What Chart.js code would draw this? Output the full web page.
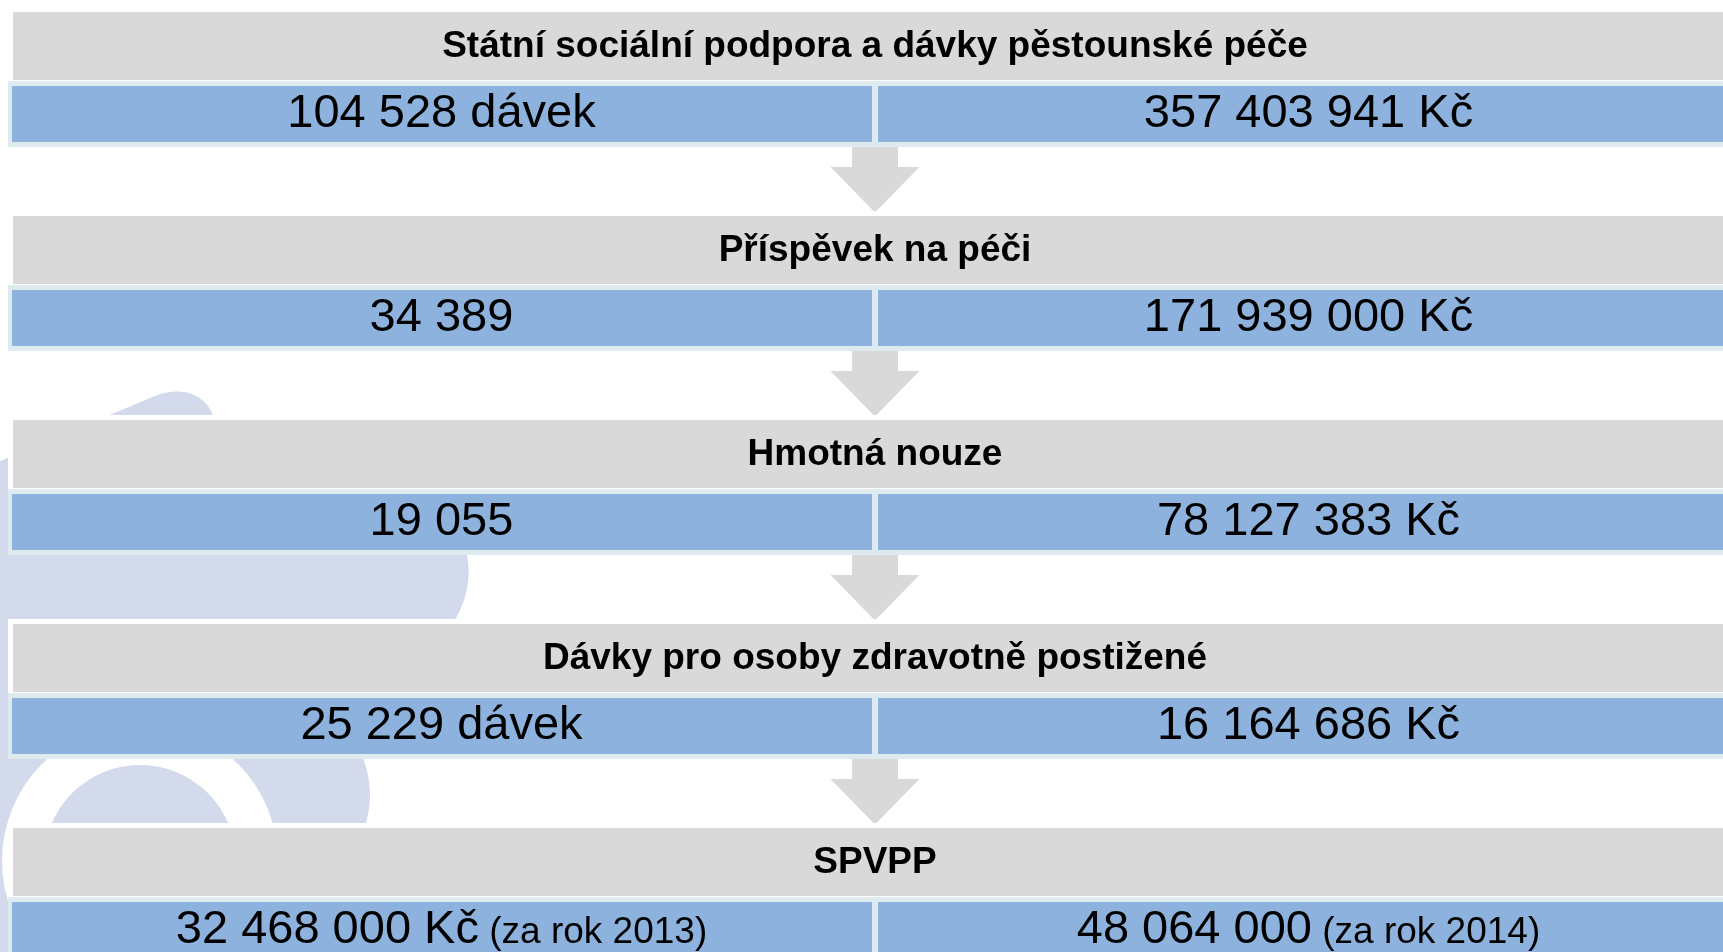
<!DOCTYPE html>
<html lang="cs">
<head>
<meta charset="utf-8">
<title>Dávky</title>
<script src="https://cdn.jsdelivr.net/npm/chart.js@4.4.1/dist/chart.umd.min.js"></script>
<style>
  html, body { margin: 0; padding: 0; background: #fff; overflow: hidden; }
  #wrap { width: 1760px; height: 1000px; }
</style>
</head>
<body>
<div id="wrap"><canvas id="flowChart" width="1760" height="1000"></canvas></div>
<script>
var headers = [
    'Státní sociální podpora a dávky pěstounské péče',
    'Příspěvek na péči',
    'Hmotná nouze',
    'Dávky pro osoby zdravotně postižené',
    'SPVPP'
];
var leftValues = ['104 528 dávek', '34 389', '19 055', '25 229 dávek', '32 468 000 Kč'];
var leftNotes = ['', '', '', '', '(za rok 2013)'];
var rightValues = ['357 403 941 Kč', '171 939 000 Kč', '78 127 383 Kč', '16 164 686 Kč', '48 064 000'];
var rightNotes = ['', '', '', '', '(za rok 2014)'];

var GRAY = '#D9D9D9';
var BLUE = '#8DB2DD';
var EDGE = '#DDEBEE';
var MARK = '#D2DAEB';
var FONT = '"Liberation Sans", Arial, sans-serif';

// each block: heading row, values row, arrow row (no arrow after the last one)
var rows = [];
headers.forEach(function (h, i) {
    rows.push({ kind: 'head', idx: i });
    rows.push({ kind: 'vals', idx: i });
    if (i < headers.length - 1) rows.push({ kind: 'arrow', idx: i });
});
var labels = rows.map(function (r) { return r.kind + r.idx; });

// faint logo behind the boxes + the grey arrows between blocks
var backdrop = {
    id: 'backdrop',
    beforeDatasetsDraw: function (chart) {
        var ctx = chart.ctx;
        ctx.save();
        ctx.fillStyle = MARK;
        // left strip
        ctx.fillRect(0, 461, 12, 540);
        // upper blob
        ctx.beginPath();
        ctx.moveTo(0, 461);
        ctx.lineTo(150, 398);
        ctx.bezierCurveTo(175, 386, 205, 390, 214, 418);
        ctx.lineTo(430, 500);
        ctx.bezierCurveTo(480, 540, 475, 590, 452, 625);
        ctx.lineTo(0, 625);
        ctx.closePath();
        ctx.fill();
        // lower ring
        ctx.beginPath();
        ctx.ellipse(140, 795, 230, 150, 0, 0, Math.PI * 2);
        ctx.fill();
        ctx.fillStyle = '#fff';
        ctx.beginPath();
        ctx.arc(140, 861, 138, 0, Math.PI * 2);
        ctx.fill();
        ctx.fillStyle = MARK;
        ctx.beginPath();
        ctx.arc(140, 861, 96, 0, Math.PI * 2);
        ctx.fill();

        // arrows
        var x = chart.scales.x, y = chart.scales.y;
        var band = y.height / rows.length;
        var cx = x.getPixelForValue(0.5);
        ctx.fillStyle = GRAY;
        rows.forEach(function (r, i) {
            if (r.kind !== 'arrow') return;
            var top = y.getPixelForValue(i) - band / 2;
            ctx.fillRect(cx - 23, top - 4, 46, band * 0.28 + 4);
            ctx.beginPath();
            ctx.moveTo(cx - 44.5, top + band * 0.28);
            ctx.lineTo(cx + 44.5, top + band * 0.28);
            ctx.lineTo(cx, top + band * 0.95);
            ctx.closePath();
            ctx.fill();
        });
        ctx.restore();
    }
};

function drawPair(ctx, cx, base, main, note) {
    ctx.font = '47px ' + FONT;
    var w1 = ctx.measureText(main).width;
    var w2 = 0;
    if (note) {
        ctx.font = '37px ' + FONT;
        w2 = ctx.measureText(' ' + note).width;
    }
    var sx = cx - (w1 + w2) / 2;
    ctx.font = '47px ' + FONT;
    ctx.fillText(main, sx, base);
    if (note) {
        ctx.font = '37px ' + FONT;
        ctx.fillText(' ' + note, sx + w1, base);
    }
}

var boxText = {
    id: 'boxText',
    afterDatasetsDraw: function (chart) {
        var ctx = chart.ctx;
        var x = chart.scales.x, y = chart.scales.y;
        ctx.save();
        ctx.fillStyle = '#000';
        ctx.textBaseline = 'alphabetic';
        rows.forEach(function (r, i) {
            var cy = y.getPixelForValue(i);
            if (r.kind === 'head') {
                ctx.font = 'bold 37px ' + FONT;
                ctx.textAlign = 'center';
                ctx.fillText(headers[r.idx], x.getPixelForValue(0.5), cy + 11);
            } else if (r.kind === 'vals') {
                ctx.textAlign = 'left';
                drawPair(ctx, x.getPixelForValue(0.25), cy + 13, leftValues[r.idx], leftNotes[r.idx]);
                drawPair(ctx, x.getPixelForValue(0.75), cy + 13, rightValues[r.idx], rightNotes[r.idx]);
            }
        });
        ctx.restore();
    }
};

var ctx = document.getElementById('flowChart').getContext('2d');
var flowChart = new Chart(ctx, {
    type: 'bar',
    data: {
        labels: labels,
        datasets: [
            {
                label: 'head',
                data: rows.map(function (r) { return r.kind === 'head' ? [0, 1] : null; }),
                backgroundColor: GRAY,
                borderColor: '#fff',
                borderWidth: 5,
                borderSkipped: false,
                barPercentage: 78 / 68,
                categoryPercentage: 1,
                grouped: false,
                clip: false,
                order: 2
            },
            {
                label: 'left',
                data: rows.map(function (r) { return r.kind === 'vals' ? [0, 0.5] : null; }),
                backgroundColor: BLUE,
                borderColor: EDGE,
                borderWidth: { left: 4, right: 3, top: 5, bottom: 5 },
                borderSkipped: false,
                barPercentage: 66 / 68,
                categoryPercentage: 1,
                grouped: false,
                clip: false,
                order: 1
            },
            {
                label: 'right',
                data: rows.map(function (r) { return r.kind === 'vals' ? [0.5, 1] : null; }),
                backgroundColor: BLUE,
                borderColor: EDGE,
                borderWidth: { left: 3, right: 4, top: 5, bottom: 5 },
                borderSkipped: false,
                barPercentage: 66 / 68,
                categoryPercentage: 1,
                grouped: false,
                clip: false,
                order: 1
            }
        ]
    },
    options: {
        indexAxis: 'y',
        responsive: false,
        animation: false,
        devicePixelRatio: 1,
        layout: { padding: { left: 8, right: 18, top: 12, bottom: 36 } },
        plugins: {
            legend: { display: false },
            title: { display: false },
            tooltip: { enabled: false }
        },
        scales: {
            x: { type: 'linear', min: 0, max: 1, display: false },
            y: { type: 'category', display: false, grid: { display: false } }
        }
    },
    plugins: [backdrop, boxText]
});
</script>
</body>
</html>
